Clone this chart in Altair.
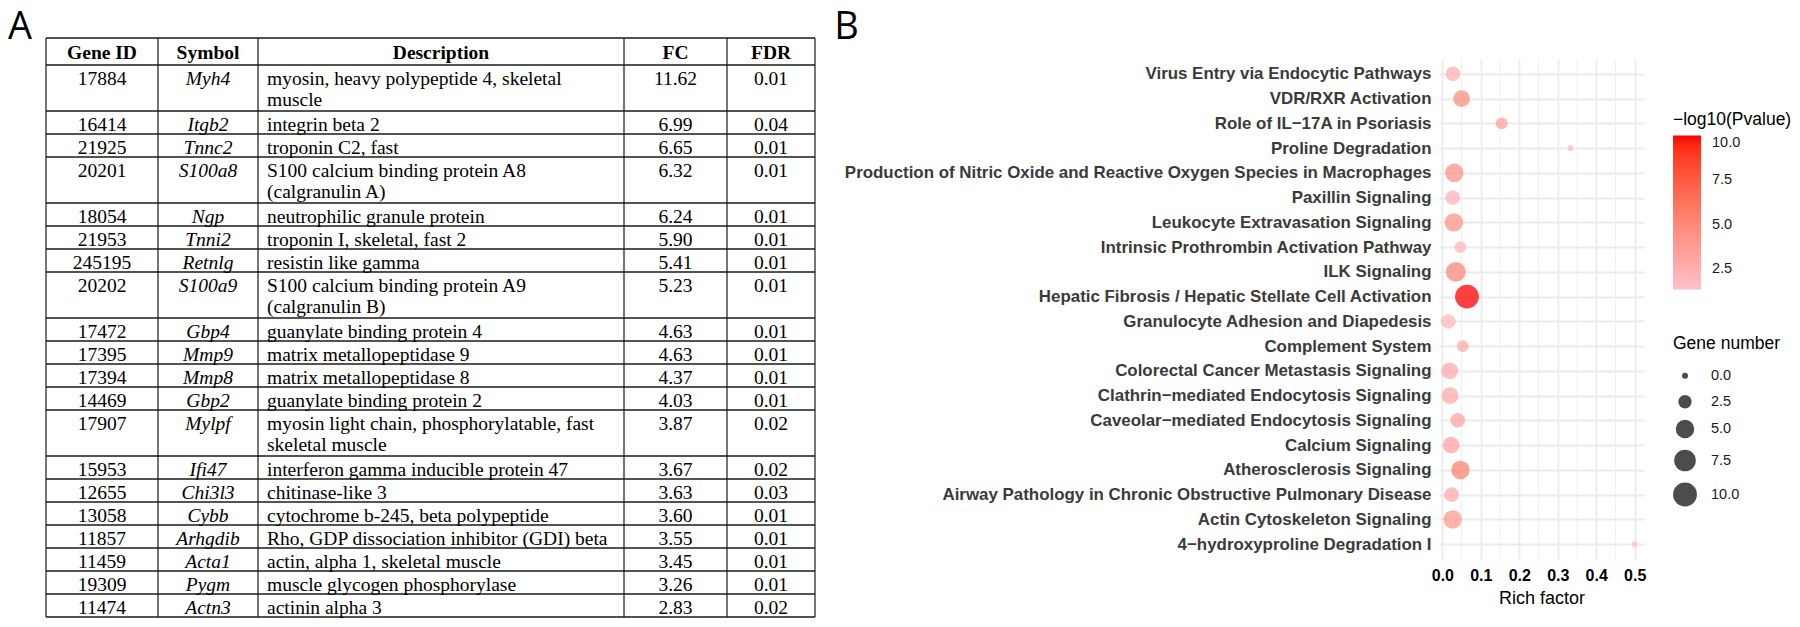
import altair as alt
import pandas as pd

# ---------------- Panel A data (table) ----------------
headers = ["Gene ID", "Symbol", "Description", "FC", "FDR"]
gene_ids = ["17884", "16414", "21925", "20201", "18054", "21953", "245195", "20202",
            "17472", "17395", "17394", "14469", "17907", "15953", "12655", "13058",
            "11857", "11459", "19309", "11474"]
symbols = ["Myh4", "Itgb2", "Tnnc2", "S100a8", "Ngp", "Tnni2", "Retnlg", "S100a9",
           "Gbp4", "Mmp9", "Mmp8", "Gbp2", "Mylpf", "Ifi47", "Chi3l3", "Cybb",
           "Arhgdib", "Acta1", "Pygm", "Actn3"]
descriptions = [
    "myosin, heavy polypeptide 4, skeletal\nmuscle",
    "integrin beta 2",
    "troponin C2, fast",
    "S100 calcium binding protein A8\n(calgranulin A)",
    "neutrophilic granule protein",
    "troponin I, skeletal, fast 2",
    "resistin like gamma",
    "S100 calcium binding protein A9\n(calgranulin B)",
    "guanylate binding protein 4",
    "matrix metallopeptidase 9",
    "matrix metallopeptidase 8",
    "guanylate binding protein 2",
    "myosin light chain, phosphorylatable, fast\nskeletal muscle",
    "interferon gamma inducible protein 47",
    "chitinase-like 3",
    "cytochrome b-245, beta polypeptide",
    "Rho, GDP dissociation inhibitor (GDI) beta",
    "actin, alpha 1, skeletal muscle",
    "muscle glycogen phosphorylase",
    "actinin alpha 3",
]
fold_changes = [11.62, 6.99, 6.65, 6.32, 6.24, 5.90, 5.41, 5.23, 4.63, 4.63,
                4.37, 4.03, 3.87, 3.67, 3.63, 3.60, 3.55, 3.45, 3.26, 2.83]
fdrs = [0.01, 0.04, 0.01, 0.01, 0.01, 0.01, 0.01, 0.01, 0.01, 0.01,
        0.01, 0.01, 0.02, 0.02, 0.03, 0.01, 0.01, 0.01, 0.01, 0.02]

# ---------------- Panel B data (enrichment bubbles) ----------------
pathways = [
    "Virus Entry via Endocytic Pathways",
    "VDR/RXR Activation",
    "Role of IL\u221217A in Psoriasis",
    "Proline Degradation",
    "Production of Nitric Oxide and Reactive Oxygen Species in Macrophages",
    "Paxillin Signaling",
    "Leukocyte Extravasation Signaling",
    "Intrinsic Prothrombin Activation Pathway",
    "ILK Signaling",
    "Hepatic Fibrosis / Hepatic Stellate Cell Activation",
    "Granulocyte Adhesion and Diapedesis",
    "Complement System",
    "Colorectal Cancer Metastasis Signaling",
    "Clathrin\u2212mediated Endocytosis Signaling",
    "Caveolar\u2212mediated Endocytosis Signaling",
    "Calcium Signaling",
    "Atherosclerosis Signaling",
    "Airway Pathology in Chronic Obstructive Pulmonary Disease",
    "Actin Cytoskeleton Signaling",
    "4\u2212hydroxyproline Degradation I",
]
rich_factor = [0.0275, 0.050, 0.154, 0.333, 0.031, 0.027, 0.030, 0.047, 0.035, 0.064,
               0.0155, 0.053, 0.019, 0.020, 0.040, 0.023, 0.047, 0.024, 0.027, 0.500]
gene_number = [3, 4, 2, 1, 5, 3, 5, 2, 6, 10,
               3, 2, 4, 4, 3, 4, 5, 3, 5, 1]
neg_log10_p = [2.4, 4.6, 3.5, 1.8, 4.4, 2.2, 4.3, 2.0, 5.0, 10.0,
               1.9, 2.8, 2.8, 2.8, 3.2, 3.2, 5.4, 2.8, 3.9, 1.36]
x_ticks = [0.0, 0.1, 0.2, 0.3, 0.4, 0.5]
x_minor = [0.05, 0.15, 0.25, 0.35, 0.45]
color_breaks = [2.5, 5.0, 7.5, 10.0]
size_breaks = [0.0, 2.5, 5.0, 7.5, 10.0]

# ================= layout constants (pixels) =================
A_TOP = 37          # table top on the page
B_TOP = 58          # bubble panel top on the page (shared row origin)
SHIFT = B_TOP - A_TOP

# ================= Panel A =================
COL_W = [112, 100, 366, 103, 88]
HEAD_H = 27
LINE_H = 23
edges = [0]
for w in COL_W:
    edges.append(edges[-1] + w)
TABLE_W = edges[-1]
centers = [(edges[i] + edges[i + 1]) / 2 for i in range(len(COL_W))]
row_top = []
yy = HEAD_H
for d in descriptions:
    row_top.append(yy)
    yy += (d.count("\n") + 1) * LINE_H
TABLE_H = yy

xs = alt.Scale(domain=[0, TABLE_W], nice=False, zero=False)
ys = alt.Scale(domain=[SHIFT, TABLE_H], nice=False, zero=False, reverse=True)
XA = alt.X("x:Q", scale=xs, axis=None)
YA = alt.Y("y:Q", scale=ys, axis=None)

hlines = pd.DataFrame({"y": [0, HEAD_H] + row_top[1:] + [TABLE_H]})
hlines["x"] = 0
hlines["x2"] = TABLE_W
vlines = pd.DataFrame({"x": edges})
vlines["y"] = 0
vlines["y2"] = TABLE_H

LINE_COLOR = "#1a1a1a"
h_rule = alt.Chart(hlines).mark_rule(color=LINE_COLOR, strokeWidth=1.4).encode(
    x=XA, x2="x2:Q", y=YA)
v_rule = alt.Chart(vlines).mark_rule(color=LINE_COLOR, strokeWidth=1.2).encode(
    x=XA, y=YA, y2="y2:Q")

SERIF = "Liberation Serif"
FS = 19.5
head_df = pd.DataFrame({"x": centers, "y": [21] * len(headers), "t": headers})
head_txt = alt.Chart(head_df).mark_text(
    font=SERIF, fontSize=FS, fontWeight="bold", align="center", baseline="alphabetic",
    color="black").encode(x=XA, y=YA, text="t:N")

base_y = [t + 20 for t in row_top]
plain_df = pd.DataFrame({
    "x": [centers[0]] * len(gene_ids) + [centers[3]] * len(gene_ids) + [centers[4]] * len(gene_ids),
    "y": base_y * 3,
    "t": gene_ids + [f"{v:.2f}" for v in fold_changes] + [f"{v:.2f}" for v in fdrs],
})
plain_txt = alt.Chart(plain_df).mark_text(
    font=SERIF, fontSize=FS, align="center", baseline="alphabetic", color="black"
).encode(x=XA, y=YA, text="t:N")

sym_df = pd.DataFrame({"x": [centers[1]] * len(symbols), "y": base_y, "t": symbols})
sym_txt = alt.Chart(sym_df).mark_text(
    font=SERIF, fontSize=FS, fontStyle="italic", align="center", baseline="alphabetic",
    color="black").encode(x=XA, y=YA, text="t:N")

desc_df = pd.DataFrame({"x": [edges[2] + 9] * len(descriptions), "y": base_y, "t": descriptions})
desc_txt = alt.Chart(desc_df).mark_text(
    font=SERIF, fontSize=FS, align="left", baseline="alphabetic", color="black",
    lineBreak="\n", lineHeight=21).encode(x=XA, y=YA, text="t:N")

panel_a = alt.layer(h_rule, v_rule, head_txt, plain_txt, sym_txt, desc_txt).properties(
    width=TABLE_W, height=TABLE_H - SHIFT,
    title=alt.TitleParams("A", anchor="start", frame="group", dx=-38, offset=-10,
                          fontSize=38, font="Open Sans", fontWeight="normal",
                          color="black"),
)

# ================= Panel B =================
SANS = "Liberation Sans"
dfb = pd.DataFrame({"pathway": pathways, "rich": rich_factor,
                    "genes": gene_number, "logp": neg_log10_p})
rmin, rmax = min(rich_factor), max(rich_factor)
pad = 0.05 * (rmax - rmin)
xscale = alt.Scale(domain=[rmin - pad, rmax + pad], nice=False, zero=False)

minor = alt.Chart(pd.DataFrame({"rich": x_minor})).mark_rule(
    color="#F0F0F0", strokeWidth=1).encode(x=alt.X("rich:Q", scale=xscale))

LEG_X = 1627
points = alt.Chart(dfb).mark_circle(fillOpacity=0.75, strokeWidth=0).encode(
    x=alt.X("rich:Q", scale=xscale, title="Rich factor",
            axis=alt.Axis(values=x_ticks, format=".1f", ticks=False, domain=False,
                          grid=True, gridColor="#EBEBEB", gridWidth=1.8,
                          labelFont=SANS, labelFontSize=16, labelFontWeight="bold",
                          labelColor="black", labelPadding=8,
                          titleFont=SANS, titleFontSize=18, titleFontWeight="normal",
                          titleColor="black", titlePadding=6)),
    y=alt.Y("pathway:N", sort=pathways, title=None,
            scale=alt.Scale(type="point", padding=0.6),
            axis=alt.Axis(ticks=False, domain=False, grid=True, gridColor="#EBEBEB",
                          gridWidth=1.8, labelFont=SANS, labelFontSize=16.9,
                          labelFontWeight="bold", labelColor="#3a3a3a",
                          labelPadding=8, labelLimit=0)),
    size=alt.Size("genes:Q",
                  scale=alt.Scale(type="sqrt", domain=[min(gene_number), max(gene_number)],
                                  range=[36, 570], clamp=True, zero=False),
                  legend=alt.Legend(title="Gene number", values=size_breaks, format=".1f",
                                    orient="none", legendX=LEG_X, legendY=276,
                                    titleFont=SANS, titleFontSize=17.5,
                                    titleFontWeight="normal", titleColor="black",
                                    titlePadding=16, labelFont=SANS, labelFontSize=14.5,
                                    labelColor="#1a1a1a", labelOffset=14,
                                    symbolFillColor="black", symbolOpacity=0.7,
                                    symbolStrokeWidth=0, symbolType="circle",
                                    rowPadding=11)),
    color=alt.Color("logp:Q",
                    scale=alt.Scale(domain=[min(neg_log10_p), max(neg_log10_p)],
                                    range=["#FFC0CB", "#FF0000"], interpolate="lab"),
                    legend=alt.Legend(title="\u2212log10(Pvalue)", values=color_breaks,
                                      format=".1f", orient="none", legendX=LEG_X, legendY=52,
                                      gradientLength=154, gradientThickness=28,
                                      gradientStrokeWidth=0,
                                      titleFont=SANS, titleFontSize=17.5,
                                      titleFontWeight="normal", titleColor="black",
                                      titlePadding=7, labelFont=SANS, labelFontSize=14.5,
                                      labelColor="#1a1a1a", labelOffset=11)),
)

panel_b = alt.layer(minor, points).properties(
    width=205, height=500,
    title=alt.TitleParams("B", anchor="start", frame="bounds", dx=-10, offset=12,
                          fontSize=38, font="Open Sans", fontWeight="normal",
                          color="black"),
)

chart = alt.hconcat(panel_a, panel_b, spacing=18, padding=0).configure_view(stroke=None)

chart.save("out.html", embed_options={"renderer": "svg", "actions": False})
